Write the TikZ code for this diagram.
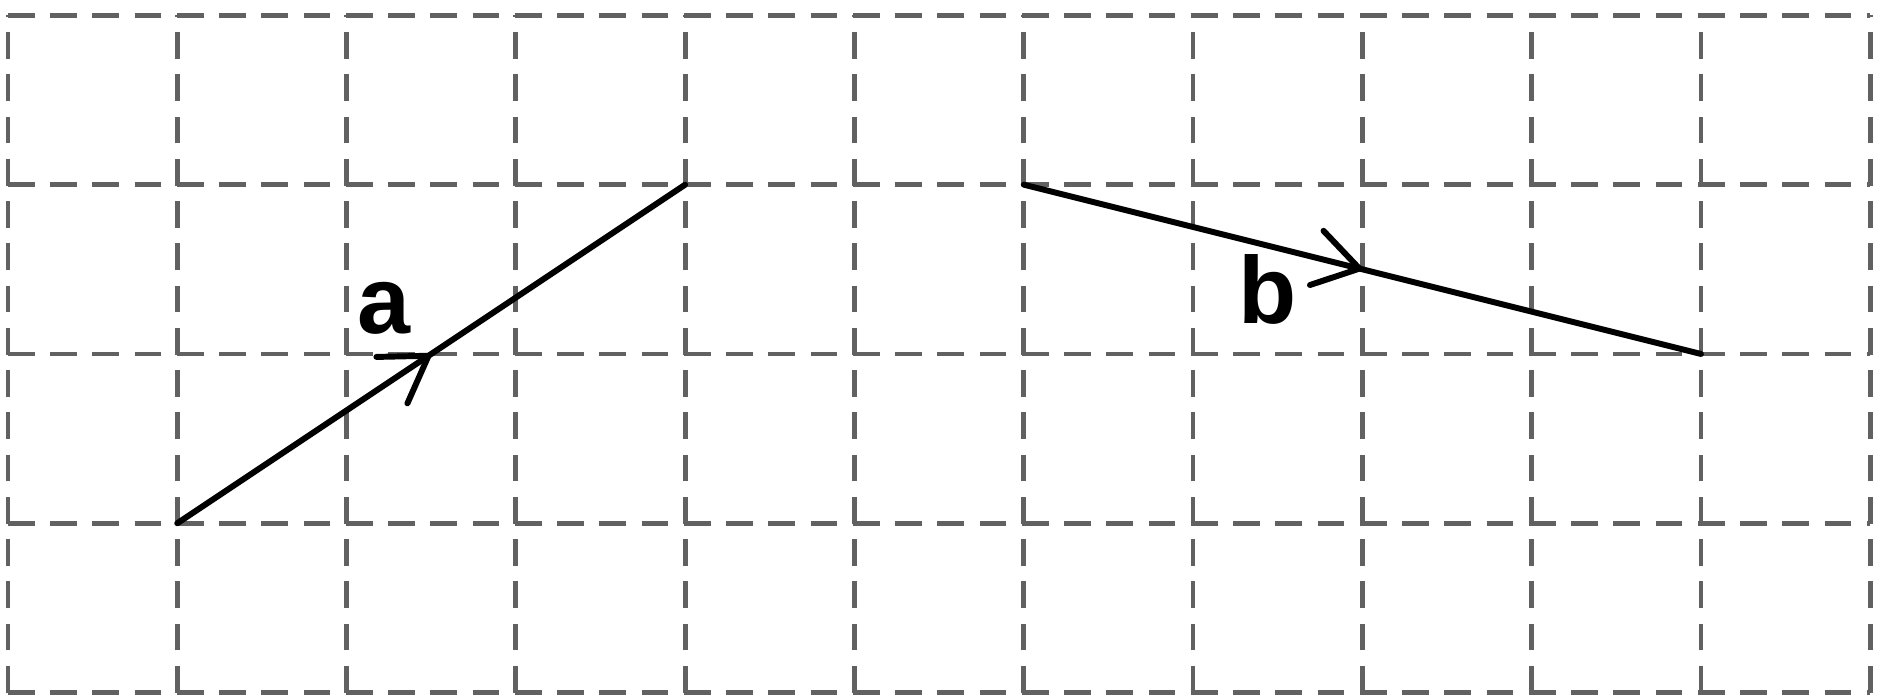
\documentclass[tikz,border=0pt]{standalone}
\usepackage{fontspec}
\setmainfont{Liberation Sans}
\usepackage{xcolor}
\usetikzlibrary{arrows.meta,decorations.markings}
\definecolor{gridgrey}{HTML}{616161}

\begin{document}
\begin{tikzpicture}[gridline/.style={draw=gridgrey,line width=.8pt,dash pattern=on 4.5pt off 2.6pt},
  vec/.style={draw=black,line width=1pt,line cap=round,postaction={decorate},decoration={markings,mark=at position .5 with {\arrow{Straight Barb[length=2.6mm,width=3.3mm,line width=1pt,round]}}}},
  lbl/.style={font=\fontsize{16}{16}\selectfont\bfseries,inner sep=0pt}]
\useasboundingbox (-0.047,-0.02) rectangle (11.099,4.091);
\draw[gridline] (0,0) grid (11,4);
\coordinate (a0) at (1,1); \coordinate (a1) at (4,3);
\coordinate (b0) at (6,3); \coordinate (b1) at (10,2);
\draw[vec] (a0) -- (a1);
\draw[vec] (b0) -- (b1);
\node[lbl] (la) at (2.22,2.27) {a};
\node[lbl] (lb) at (7.44,2.38) {b};
\end{tikzpicture}
\end{document}
